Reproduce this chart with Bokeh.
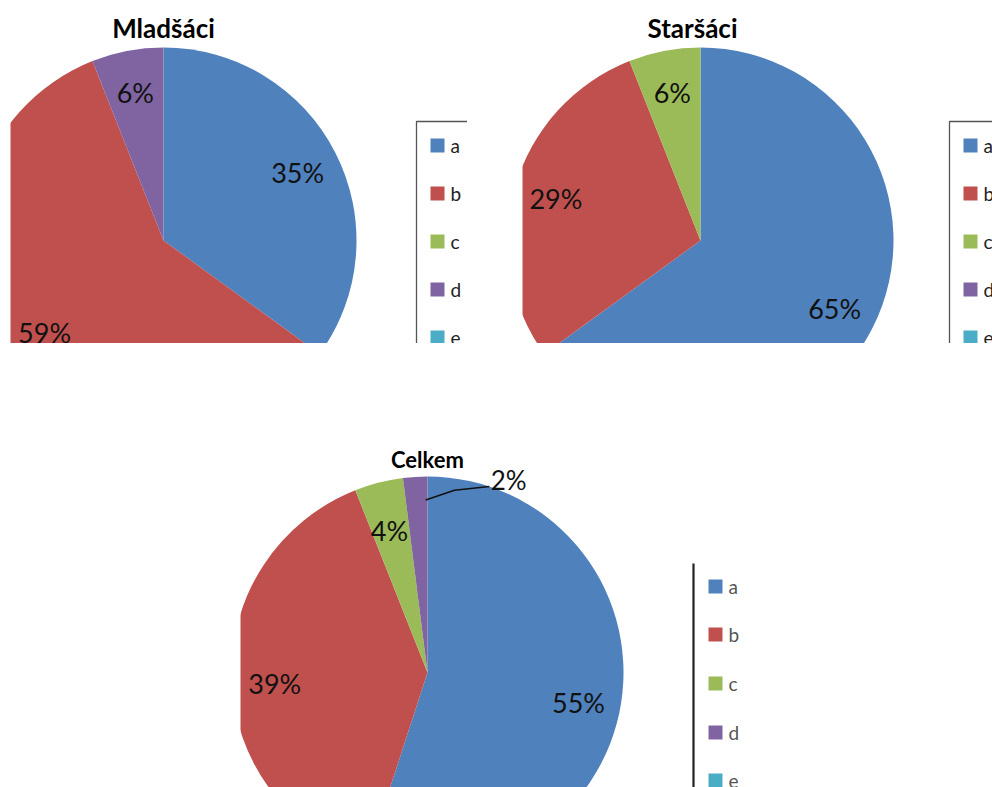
import math
from bokeh.plotting import figure
from bokeh.layouts import column, row
from bokeh.models import Range1d, Spacer
from bokeh.core.properties import value
from bokeh.embed import file_html
from bokeh.resources import INLINE

# ---------------- data ----------------
categories = ["a", "b", "c", "d", "e"]
colors = ["#4F81BD", "#C0504D", "#9BBB59", "#8064A2", "#4BACC6"]
titles = ["Mladšáci", "Staršáci", "Celkem"]
mladsaci = [35, 59, 0, 6, 0]
starsaci = [65, 29, 6, 0, 0]
celkem = [55, 39, 4, 2, 0]

FONT = "Lato"


def make_panel(ox, oy, W, H, vals, title, cx, cy, r, title_xy, leg_x, leg_ys,
               leg_box, leg_style, title_size, light=False, lab_dy=0):
    # page pixel -> data coords helpers
    def X(px):
        return px - ox

    def Y(py):
        return H - (py - oy)

    p = figure(width=W, height=H, x_range=Range1d(0, W), y_range=Range1d(0, H),
               output_backend="svg", toolbar_location=None, min_border=0)
    p.axis.visible = False
    p.grid.visible = False
    p.outline_line_color = None
    p.background_fill_color = "white"
    p.border_fill_color = "white"

    total = float(sum(vals))
    cum = 0.0
    xs_l, ys_l, txt_l = [], [], []
    for v, c in zip(vals, colors):
        if v <= 0:
            continue
        f0 = cum / total
        f1 = (cum + v) / total
        cum += v
        a0 = math.pi / 2 - 2 * math.pi * f0
        a1 = math.pi / 2 - 2 * math.pi * f1
        p.wedge(x=X(cx), y=Y(cy), radius=r, start_angle=a0, end_angle=a1,
                direction="clock", fill_color=c, line_color=None)
        fm = (f0 + f1) / 2
        ang = 2 * math.pi * fm  # clockwise from top
        if v < 3:
            # small slice: label outside with a leader line
            s_r = 0.88 * r
            ang_s = ang + math.radians(3)
            sx, sy = cx + s_r * math.sin(ang_s), cy - s_r * math.cos(ang_s)
            ang_m = ang + math.radians(12)
            mx, my = cx + 0.94 * r * math.sin(ang_m), cy - 0.94 * r * math.cos(ang_m)
            ang_e = ang + math.radians(22)
            ex, ey = cx + 1.0 * r * math.sin(ang_e), cy - 1.0 * r * math.cos(ang_e)
            ang_t = ang + math.radians(26)
            tx, ty = cx + 1.06 * r * math.sin(ang_t), cy - 1.06 * r * math.cos(ang_t)
            p.line(x=[X(sx), X(mx), X(ex)], y=[Y(sy), Y(my), Y(ey)],
                   line_color="#111111", line_width=1.5)
            p.text(x=[X(tx + 2)], y=[Y(ty)], text=[f"{v}%"], text_align="center",
                   text_baseline="middle", text_font=value(FONT), text_font_size="26px",
                   text_color="#111111")
        else:
            lr = 0.78 * r
            xs_l.append(X(cx + lr * math.sin(ang)))
            ys_l.append(Y(cy - lr * math.cos(ang) + lab_dy))
            txt_l.append(f"{v}%")
    p.text(x=xs_l, y=ys_l, text=txt_l, text_align="center", text_baseline="middle",
           text_font=value(FONT), text_font_size="27px", text_color="#111111")

    # title
    p.text(x=[X(title_xy[0])], y=[Y(title_xy[1])], text=[title], text_align="center",
           text_baseline="middle", text_font=value(FONT), text_font_size=title_size,
           text_font_style="bold", text_color="#000000")

    # legend frame
    bx, by = leg_box
    if leg_style == "box":
        p.line(x=[X(bx), X(bx), X(ox + W + 50)], y=[Y(oy + H + 5), Y(by), Y(by)],
               line_color="#555555", line_width=1.3)
    else:
        p.line(x=[X(bx), X(bx)], y=[Y(by), Y(oy + H + 5)],
               line_color="#222222", line_width=2.2)

    # legend entries
    p.scatter(x=[X(leg_x)] * len(categories), y=[Y(yy) for yy in leg_ys], marker="square",
              size=14, fill_color=colors, line_color=None)
    p.text(x=[X(leg_x + 13)] * len(categories), y=[Y(yy) for yy in leg_ys], text=categories,
           text_align="left", text_baseline="middle", text_font=value(FONT),
           text_font_size="19px", text_color="#555555" if light else "#222222")
    return p


top_leg_ys = [145, 193, 241, 289, 337]
bot_leg_ys = [586, 634, 683, 732, 780]

p1 = make_panel(10, 0, 457, 343, mladsaci, titles[0], 163, 240, 193, (163, 27),
                437, top_leg_ys, (416, 121), "box", "26px")
p2 = make_panel(522, 0, 470, 343, starsaci, titles[1], 700, 240, 193, (692, 27),
                970, top_leg_ys, (949, 121), "box", "26px")
p3 = make_panel(240, 440, 752, 347, celkem, titles[2], 427, 672, 196, (427, 459),
                715, bot_leg_ys, (693, 563), "line", "22px", light=True, lab_dy=6)

layout = column(
    row(Spacer(width=10, height=343), p1, Spacer(width=55, height=343), p2),
    Spacer(width=992, height=97),
    row(Spacer(width=240, height=347), p3),
)

open("out.html", "w").write(file_html(layout, INLINE))
